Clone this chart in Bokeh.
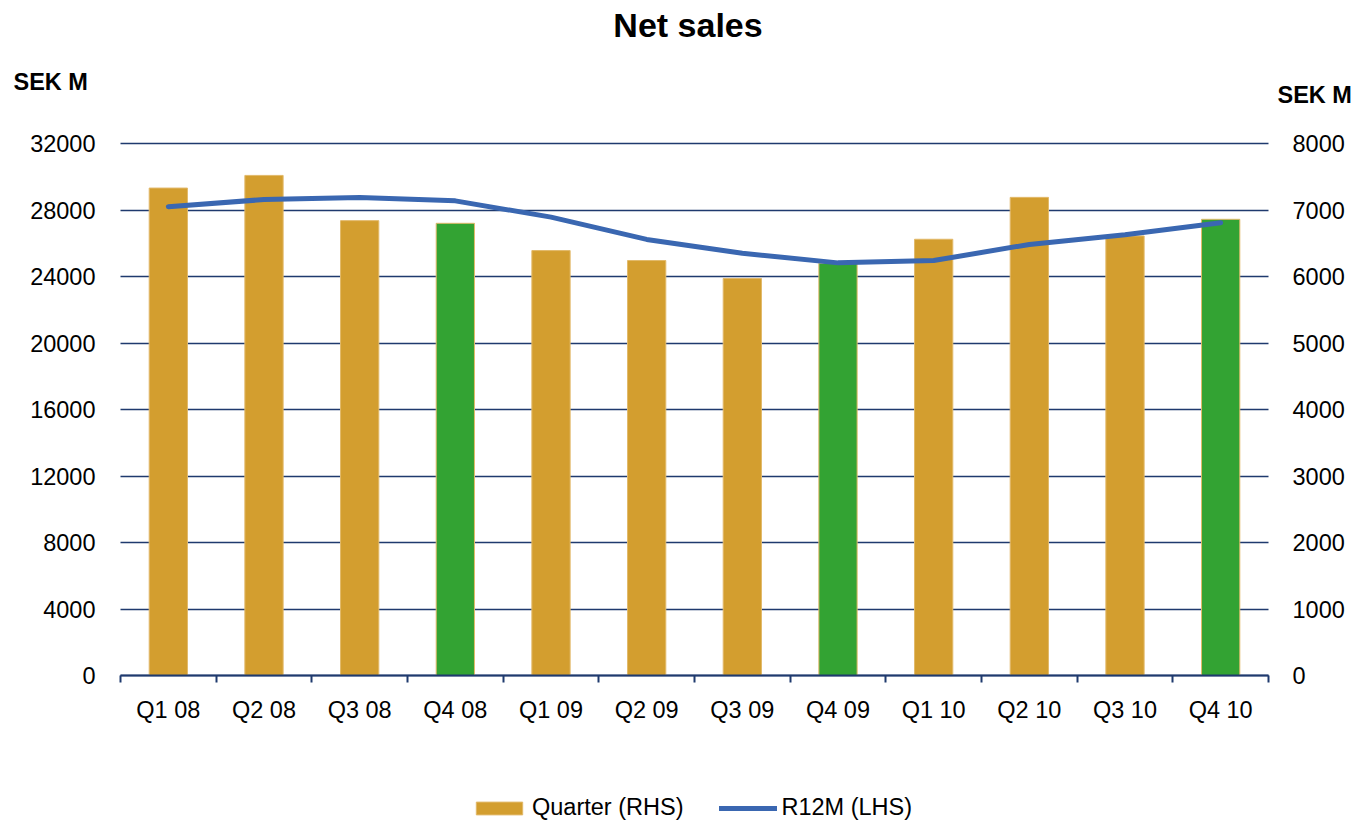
from bokeh.plotting import figure
from bokeh.models import (Range1d, LinearAxis, FixedTicker, Label, Legend,
                          LegendItem, ColumnDataSource)
from bokeh.embed import file_html
from bokeh.resources import INLINE

# ---- data ----
quarters = ["Q1 08", "Q2 08", "Q3 08", "Q4 08", "Q1 09", "Q2 09",
            "Q3 09", "Q4 09", "Q1 10", "Q2 10", "Q3 10", "Q4 10"]
quarter_sales = [7330, 7520, 6840, 6800, 6390, 6240, 5970, 6200, 6560, 7190, 6610, 6860]  # RHS
r12m_sales = [28200, 28630, 28750, 28550, 27570, 26230, 25400, 24820, 24960, 25930, 26510, 27230]  # LHS
bar_colors = ["#D39E2F", "#D39E2F", "#D39E2F", "#33A333",
              "#D39E2F", "#D39E2F", "#D39E2F", "#33A333",
              "#D39E2F", "#D39E2F", "#D39E2F", "#33A333"]
left_ticks = [0, 4000, 8000, 12000, 16000, 20000, 24000, 28000, 32000]
right_ticks = [0, 1000, 2000, 3000, 4000, 5000, 6000, 7000, 8000]
title_text = "Net sales"
unit_text = "SEK M"
legend_labels = ["Quarter (RHS)", "R12M (LHS)"]

# ---- styling / layout constants ----
FONT = "Liberation Sans"
NAVY = "#1F3A6E"
BLUE = "#3A67B1"
TICK_FS = "23.5px"
W, H = 1358, 822
PLOT_L, PLOT_R, PLOT_T, PLOT_B = 120, 1268, 143, 675   # pixel box of the chart area
LEFT_MAX, RIGHT_MAX = left_ticks[-1], right_ticks[-1]

n = len(quarters)
xs = [i + 0.5 for i in range(n)]
boundaries = list(range(n + 1))

# ranges chosen so that the data box [0,n]x[0,LEFT_MAX] lands on the pixel box
px_x = (PLOT_R - PLOT_L) / n
px_y = (PLOT_B - PLOT_T) / LEFT_MAX
x_range = Range1d(-PLOT_L / px_x, n + (W - PLOT_R) / px_x)
y_lo, y_hi = -(H - PLOT_B) / px_y, LEFT_MAX + PLOT_T / px_y
ratio = RIGHT_MAX / LEFT_MAX

src = ColumnDataSource(dict(x=xs, q=quarters, sales=quarter_sales,
                            r12m=r12m_sales, color=bar_colors))

p = figure(width=W, height=H, output_backend="svg", toolbar_location=None,
           x_range=x_range, y_range=Range1d(y_lo, y_hi),
           min_border=0, min_border_left=0, min_border_right=0,
           min_border_top=0, min_border_bottom=0)
p.extra_y_ranges = {"right": Range1d(y_lo * ratio, y_hi * ratio)}
p.outline_line_color = None

# grid
p.xgrid.visible = False
grid = p.ygrid[0]
grid.ticker = FixedTicker(ticks=left_ticks)
grid.grid_line_color = NAVY
grid.grid_line_width = 1.3
if "cross_bounds" in grid.properties():
    grid.cross_bounds = (0, n)
else:
    grid.visible = False
    p.segment(x0=[0] * len(left_ticks), x1=[n] * len(left_ticks),
              y0=left_ticks, y1=left_ticks, line_color=NAVY, line_width=1.3)

# left axis
ly = p.yaxis[0]
ly.ticker = FixedTicker(ticks=left_ticks)
ly.fixed_location = 0
ly.bounds = (0, LEFT_MAX)
ly.axis_line_color = None
ly.major_tick_line_color = None
ly.minor_tick_line_color = None
ly.major_tick_out = 0
ly.major_tick_in = 0
ly.major_label_standoff = 25
ly.major_label_text_font = FONT
ly.major_label_text_font_size = TICK_FS
ly.major_label_text_color = "black"

# right axis
ry = LinearAxis(y_range_name="right", ticker=FixedTicker(ticks=right_ticks))
ry.fixed_location = n
ry.bounds = (0, RIGHT_MAX)
ry.axis_line_color = None
ry.major_tick_line_color = None
ry.minor_tick_line_color = None
ry.major_tick_out = 0
ry.major_tick_in = 0
ry.major_label_standoff = 24
ry.major_label_text_font = FONT
ry.major_label_text_font_size = TICK_FS
ry.major_label_text_color = "black"
p.add_layout(ry, "right")

# x axis
xa = p.xaxis[0]
xa.ticker = FixedTicker(ticks=xs, minor_ticks=boundaries)
xa.fixed_location = 0
xa.bounds = (0, n)
xa.major_label_overrides = {x: q for x, q in zip(xs, quarters)}
xa.axis_line_color = NAVY
xa.axis_line_width = 2
xa.major_tick_line_color = None
xa.major_tick_out = 0
xa.major_tick_in = 0
xa.minor_tick_out = 7
xa.minor_tick_in = 0
xa.minor_tick_line_color = NAVY
xa.minor_tick_line_width = 2
xa.major_label_standoff = 14
xa.major_label_text_font = FONT
xa.major_label_text_font_size = TICK_FS
xa.major_label_text_color = "black"

# glyphs
bars = p.vbar(x="x", top="sales", width=0.4, source=src, y_range_name="right",
              fill_color="color", line_color="#E2B96A", line_width=1)
line = p.line(x="x", y="r12m", source=src, line_color=BLUE, line_width=5,
              line_cap="round", line_join="round")

# texts (screen units: frame covers the whole canvas, y measured from bottom)
def add_text(txt, cx, cy, size, align):
    p.add_layout(Label(x=cx, y=H - cy, x_units="screen", y_units="screen",
                       text=txt, text_align=align, text_baseline="middle",
                       text_font=FONT, text_font_size=size, text_font_style="bold",
                       text_color="black"))

add_text(title_text, 687.5, 24, "34px", "center")
add_text(unit_text, 13, 81, "23.5px", "left")
add_text(unit_text, 1277, 94, "23.5px", "left")

legend = Legend(items=[LegendItem(label=legend_labels[0], renderers=[bars], index=0),
                       LegendItem(label=legend_labels[1], renderers=[line])],
                orientation="horizontal", location=(470, 1),
                glyph_width=58, glyph_height=16, label_standoff=4, spacing=36,
                label_height=24, padding=0, margin=0, border_line_color=None,
                background_fill_alpha=0,
                label_text_font=FONT, label_text_font_size=TICK_FS,
                label_text_color="black")
p.add_layout(legend, "center")

open("out.html", "w").write(file_html(p, INLINE))
